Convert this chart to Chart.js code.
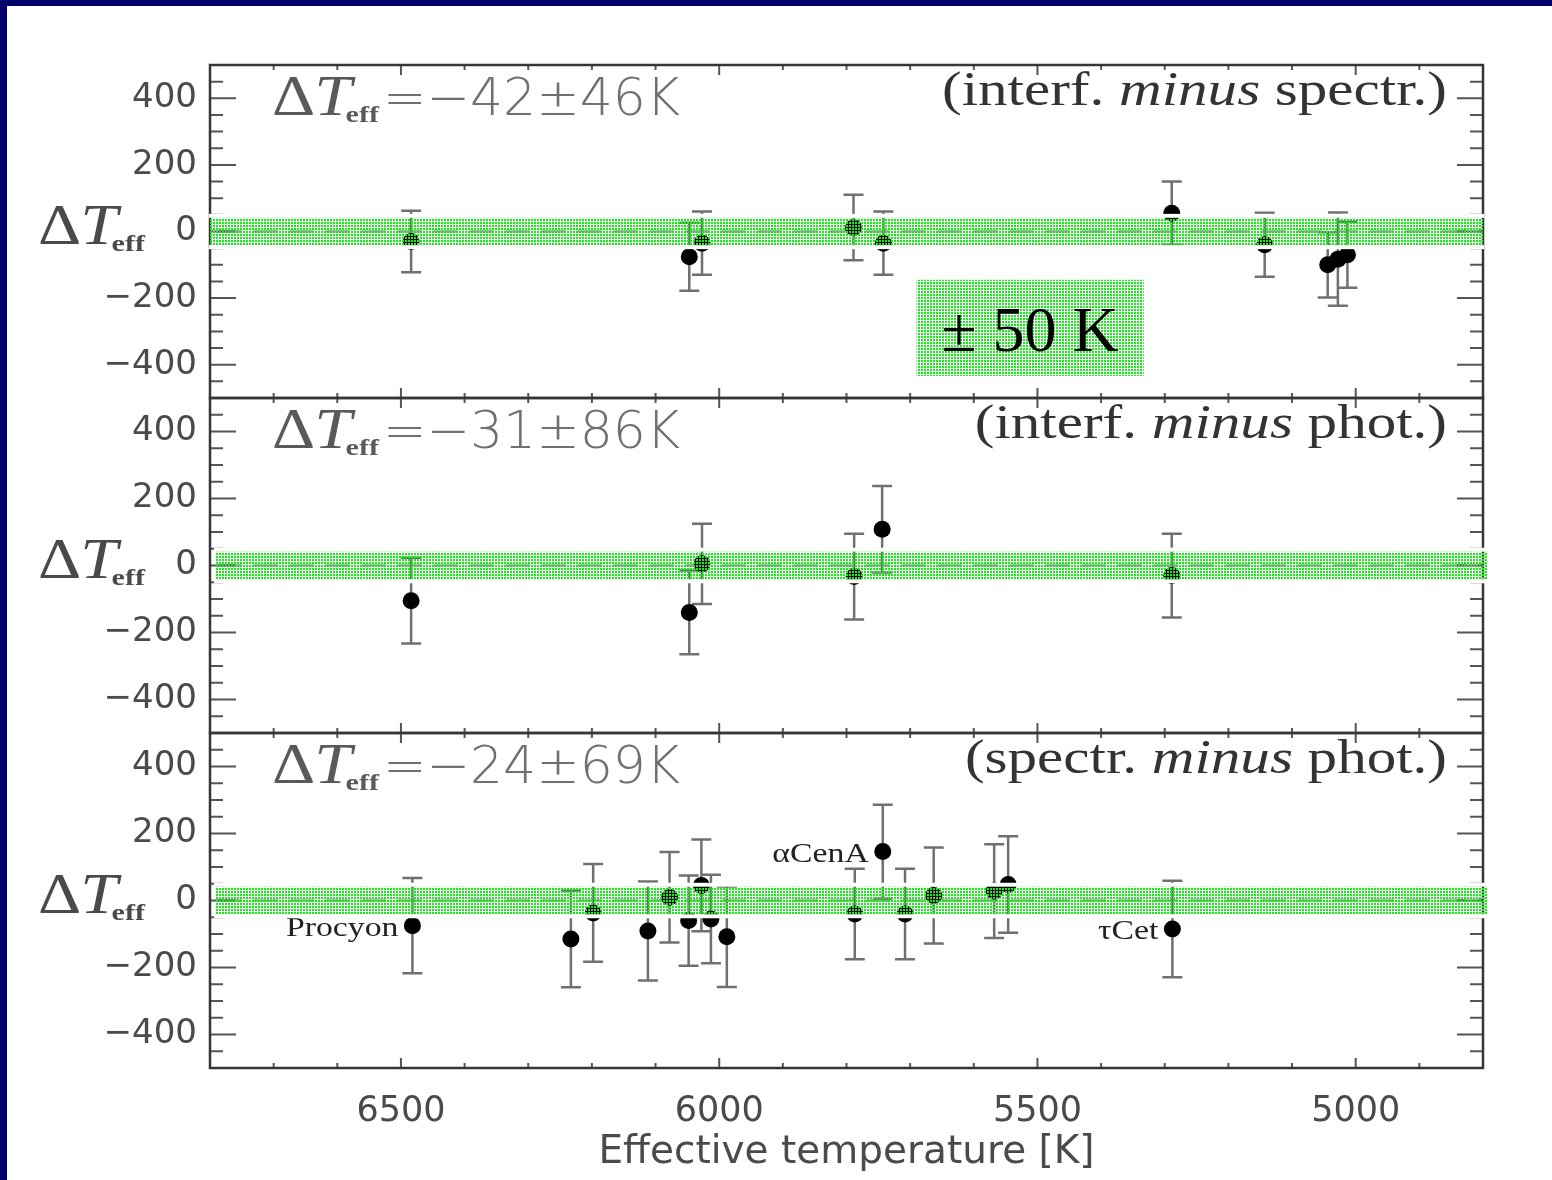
<!DOCTYPE html>
<html><head><meta charset="utf-8">
<script src="https://cdn.jsdelivr.net/npm/chart.js@4.4.1/dist/chart.umd.min.js"></script>
<style>
html,body{margin:0;padding:0;width:1552px;height:1180px;overflow:hidden;background:#02026c;}
#sheet{position:absolute;left:7px;top:6px;width:1545px;height:1174px;background:#fff;}
canvas{position:absolute;left:0;}
</style></head><body>
<div id="sheet"></div>
<canvas id="c1" width="1552" height="440" style="top:0px"></canvas>
<canvas id="c2" width="1552" height="420" style="top:355px"></canvas>
<canvas id="c3" width="1552" height="490" style="top:690px"></canvas>
<script>
// ---------- data ----------
const xTickValues = [6500, 6000, 5500, 5000];
const yTickValues = [-400, -200, 0, 200, 400];
const xRange = [4800, 6800];
const yRange = [-500, 500];
const xTitle = 'Effective temperature [K]';
const bandHalfWidth = 50;

// interf. minus spectr.
const p1Teff = [6484, 6047, 6027, 5789, 5742, 5289, 5143, 5044, 5028, 5013];
const p1Diff = [-30, -76, -35, 12, -35, 55, -40, -100, -83, -70];
const p1Err  = [92, 102, 95, 98, 95, 95, 96, 98, 140, 99];

// interf. minus phot.
const p2Teff = [6484, 6047, 6027, 5788, 5744, 5289];
const p2Diff = [-105, -140, 5, -33, 108, -30];
const p2Err  = [128, 125, 120, 128, 129, 125];

// spectr. minus phot.
const p3Teff = [6482, 6233, 6198, 6112, 6078, 6048, 6028, 6013, 5988, 5787, 5743, 5708, 5663, 5568, 5546, 5288];
const p3Diff = [-75, -115, -37, -91, 10, -60, 45, -55, -108, -40, 146, -40, 15, 28, 48, -85];
const p3Err  = [142, 144, 146, 148, 135, 135, 137, 132, 150, 135, 140, 135, 143, 140, 144, 144];
const p3LabelNames = ['Procyon', '\u03b1CenA', '\u03c4Cet'];
const p3LabelIndex = [0, 10, 15];

const panelMeans = [-42, -31, -24];
const panelSigmas = [46, 86, 69];
const panelMinuend = ['interf.', 'interf.', 'spectr.'];
const panelSubtrahend = ['spectr.', 'phot.', 'phot.'];

const boxTeff = [5690, 5333];
const boxDiff = [-145, -434];
const boxText = '\u00b1 50 K';

// ---------- helpers ----------
const MINUS = '\u2212';
function fmt(v){ return v < 0 ? MINUS + Math.abs(v) : String(v); }

function stretchText(ctx, text, x, y, font, color, align, sx){
  ctx.save();
  ctx.font = font; ctx.fillStyle = color; ctx.textBaseline = 'alphabetic'; ctx.textAlign = 'left';
  const w = ctx.measureText(text).width * sx;
  const x0 = align === 'right' ? x - w : (align === 'center' ? x - w / 2 : x);
  ctx.translate(x0, y); ctx.scale(sx, 1);
  ctx.fillText(text, 0, 0);
  ctx.restore();
  return w;
}

function makePattern(ctx){
  const c = document.createElement('canvas'); c.width = 3; c.height = 3;
  const g = c.getContext('2d');
  g.fillStyle = 'rgb(20,238,20)'; g.fillRect(0, 0, 2, 2);
  return ctx.createPattern(c, 'repeat');
}

function drawDeltaT(ctx, x, base, color){
  let cx = x;
  cx += stretchText(ctx, '\u0394', cx, base, '56px "Liberation Serif"', color, 'left', 1.2);
  cx += stretchText(ctx, 'T', cx - 1, base, 'italic 56px "Liberation Serif"', color, 'left', 1.2) - 7;
  cx += stretchText(ctx, 'eff', cx, base + 7, 'bold 24px "Liberation Serif"', color, 'left', 1.25);
  return cx;
}

function panelPlugin(idx, teff, diff, err, bandShift){
  return {
    id: 'panel' + idx,
    beforeDatasetsDraw(chart){
      const {ctx, chartArea: a, scales: {x, y}} = chart;
      ctx.save();
      // dashed zero line
      const y0 = y.getPixelForValue(0);
      ctx.strokeStyle = '#9a9a9a'; ctx.lineWidth = 2.5; ctx.setLineDash([24, 12]);
      ctx.beginPath(); ctx.moveTo(a.left + 8, y0); ctx.lineTo(a.right, y0); ctx.stroke();
      ctx.setLineDash([]);
      // ticks
      ctx.strokeStyle = '#555'; ctx.lineWidth = 2;
      ctx.beginPath();
      for (let v = xRange[0] + 100; v < xRange[1]; v += 100){
        const px = x.getPixelForValue(v);
        const len = (v % 500 === 0) ? 10 : 5;
        ctx.moveTo(px, a.top); ctx.lineTo(px, a.top + len);
        ctx.moveTo(px, a.bottom); ctx.lineTo(px, a.bottom - len);
      }
      for (let v = yRange[0] + 50; v < yRange[1]; v += 50){
        const py = y.getPixelForValue(v);
        const len = yTickValues.includes(v) ? 26 : 13;
        ctx.moveTo(a.left, py); ctx.lineTo(a.left + len, py);
        ctx.moveTo(a.right, py); ctx.lineTo(a.right - len, py);
      }
      ctx.stroke();
      // frame
      ctx.strokeStyle = '#363636'; ctx.lineWidth = 2.5;
      ctx.strokeRect(a.left, a.top, a.right - a.left, a.bottom - a.top);
      // error bars
      ctx.strokeStyle = '#707070'; ctx.lineWidth = 2.5;
      ctx.beginPath();
      for (let i = 0; i < teff.length; i++){
        const px = x.getPixelForValue(teff[i]);
        const yt = y.getPixelForValue(diff[i] + err[i]);
        const yb = y.getPixelForValue(diff[i] - err[i]);
        ctx.moveTo(px, yt); ctx.lineTo(px, yb);
        ctx.moveTo(px - 10, yt); ctx.lineTo(px + 10, yt);
        ctx.moveTo(px - 10, yb); ctx.lineTo(px + 10, yb);
      }
      ctx.stroke();
      ctx.restore();
    },
    afterDatasetsDraw(chart){
      const {ctx, chartArea: a, scales: {x, y}} = chart;
      ctx.save();
      // star names (bottom panel)
      if (idx === 2){
        p3LabelIndex.forEach((k, j) => {
          const px = x.getPixelForValue(teff[k]);
          const py = y.getPixelForValue(diff[k]);
          stretchText(ctx, p3LabelNames[j], px - 14, py + 10, '27px "Liberation Serif"', '#222', 'right', 1.25);
        });
      }
      // +-50 K band
      const pat = makePattern(ctx);
      const yT = y.getPixelForValue(bandHalfWidth);
      const yB = y.getPixelForValue(-bandHalfWidth);
      const bl = a.left + bandShift, br = a.right + bandShift;
      ctx.fillStyle = '#fff';
      ctx.fillRect(bl - 1, yT - 1, br - bl + 2, 4);
      ctx.fillRect(bl - 1, yB - 3, br - bl + 2, 4);
      ctx.fillStyle = pat;
      ctx.fillRect(bl, yT + 3, br - bl, yB - yT - 6);
      // y-axis title
      const y0 = y.getPixelForValue(0);
      drawDeltaT(ctx, 38, y0 + 12, '#4a4a4a');
      // statistics annotation
      const base = a.top + 50;
      let cx = drawDeltaT(ctx, 272, base, '#5a5a5a');
      stretchText(ctx, '=' + fmt(panelMeans[idx]) + '\u00b1' + panelSigmas[idx] + 'K', cx + 4, base,
                  '200 52px "DejaVu Sans"', '#707070', 'left', 1.0);
      // right annotation
      const f = '48px "Liberation Serif"', fi = 'italic 48px "Liberation Serif"', sx = 1.23;
      const t1 = '(' + panelMinuend[idx] + ' ', t2 = 'minus', t3 = ' ' + panelSubtrahend[idx] + ')';
      ctx.font = f; const w1 = ctx.measureText(t1).width * sx, w3 = ctx.measureText(t3).width * sx;
      ctx.font = fi; const w2 = ctx.measureText(t2).width * sx;
      let rx = 1447 - (w1 + w2 + w3);
      const rb = a.top + 40;
      rx += stretchText(ctx, t1, rx, rb, f, '#333', 'left', sx);
      rx += stretchText(ctx, t2, rx, rb, fi, '#333', 'left', sx);
      stretchText(ctx, t3, rx, rb, f, '#333', 'left', sx);
      // +-50 K legend box (top panel)
      if (idx === 0){
        const bx1 = x.getPixelForValue(boxTeff[0]), bx2 = x.getPixelForValue(boxTeff[1]);
        const by1 = y.getPixelForValue(boxDiff[0]), by2 = y.getPixelForValue(boxDiff[1]);
        ctx.fillStyle = pat;
        ctx.fillRect(bx1, by1, bx2 - bx1, by2 - by1);
        stretchText(ctx, boxText, (bx1 + bx2) / 2, (by1 + by2) / 2 + 23, '64px "Liberation Serif"', '#000', 'center', 1.0);
      }
      ctx.restore();
    }
  };
}

function makeChart(canvasId, idx, teff, diff, err, cfg){
  return new Chart(document.getElementById(canvasId), {
    type: 'scatter',
    data: { datasets: [{ data: teff.map((t, i) => ({x: t, y: diff[i]})),
      pointRadius: 8.5, pointHoverRadius: 8.5, backgroundColor: '#000', borderWidth: 0 }] },
    options: {
      responsive: false, animation: false, events: [], devicePixelRatio: 1,
      layout: { padding: { left: 0, right: 69, top: cfg.padTop, bottom: cfg.padBottom } },
      plugins: { legend: { display: false }, tooltip: { enabled: false } },
      scales: {
        x: { type: 'linear', reverse: true, min: xRange[0], max: xRange[1], display: cfg.showX,
             grid: { display: false }, border: { display: false },
             afterBuildTicks: s => { s.ticks = xTickValues.map(v => ({value: v})); },
             afterFit: s => { if (cfg.showX) s.height = cfg.xHeight; s.paddingLeft = 0; s.paddingRight = 0; },
             ticks: { font: { family: 'DejaVu Sans', size: 35 }, color: '#4a4a4a', padding: 15,
                      maxRotation: 0, autoSkip: false, callback: v => String(v) },
             title: { display: cfg.showX, text: xTitle, font: { family: 'DejaVu Sans', size: 39 },
                      color: '#4a4a4a', padding: { top: 0, bottom: 4 } } },
        y: { type: 'linear', min: yRange[0], max: yRange[1],
             grid: { display: false }, border: { display: false },
             afterBuildTicks: s => { s.ticks = yTickValues.map(v => ({value: v})); },
             afterFit: s => { s.width = 210; s.paddingTop = 0; s.paddingBottom = 0; },
             ticks: { font: { family: 'DejaVu Sans', size: 34 }, color: '#4a4a4a', padding: 5,
                      autoSkip: false, callback: v => fmt(v) } }
      }
    },
    plugins: [panelPlugin(idx, teff, diff, err, cfg.bandShift)]
  });
}

makeChart('c1', 0, p1Teff, p1Diff, p1Err, { padTop: 65, padBottom: 42, showX: false, bandShift: 0 });
makeChart('c2', 1, p2Teff, p2Diff, p2Err, { padTop: 43, padBottom: 42, showX: false, bandShift: 5 });
makeChart('c3', 2, p3Teff, p3Diff, p3Err, { padTop: 43, padBottom: 0, showX: true, xHeight: 112, bandShift: 5 });
</script>
</body></html>
